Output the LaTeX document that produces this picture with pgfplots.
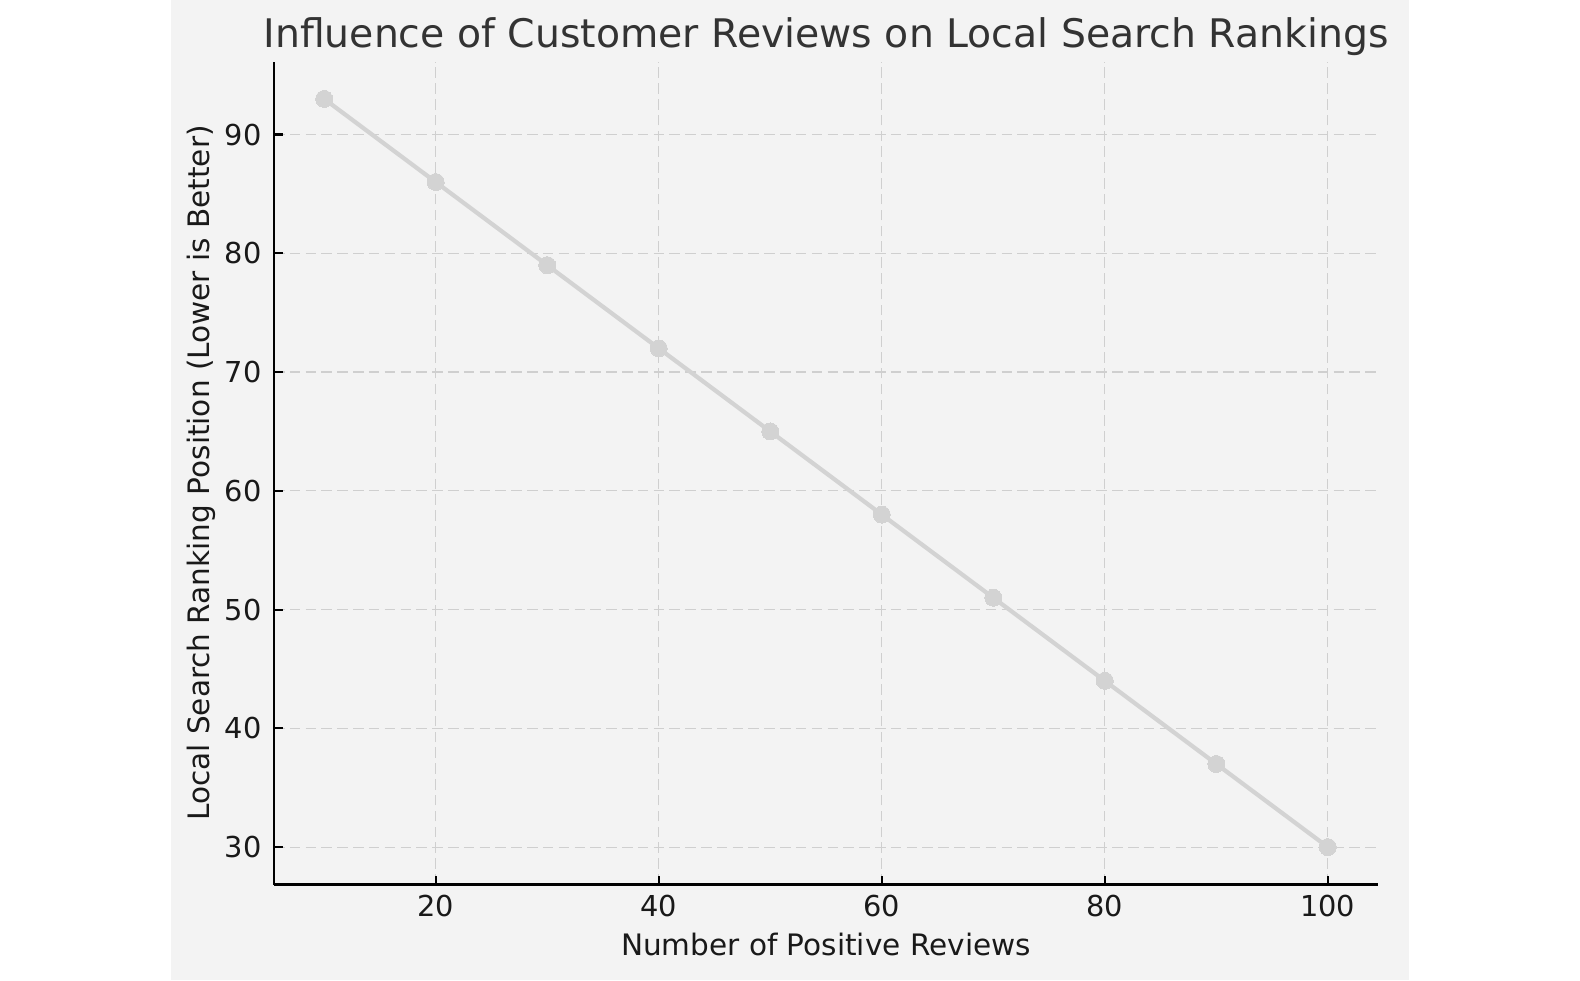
\documentclass[border=0pt]{standalone}
\usepackage{fontspec}
\setmainfont{DejaVu Sans}
\usepackage{pgfplots}
\pgfplotsset{compat=1.18}

\definecolor{panel}{HTML}{F3F3F3}
\definecolor{seriesgray}{HTML}{D3D3D3}
\definecolor{gridgray}{HTML}{CFCFCF}
\definecolor{titlegray}{HTML}{333333}

\begin{document}
\begin{tikzpicture}
\useasboundingbox (0,0) rectangle (158mm,98mm);
\fill[white] (0,0) rectangle (158mm,98mm);
\fill[panel] (17.1mm,0) rectangle (140.9mm,98mm);
\begin{axis}[
    at={(27.4mm,9.55mm)}, anchor=south west,
    scale only axis,
    width=110.4mm, height=82.3mm,
    xmin=5.5, xmax=104.5,
    ymin=26.85, ymax=96.15,
    xtick={20,40,...,100},
    ytick={30,40,...,90},
    axis x line*=bottom,
    axis y line*=left,
    axis line style={-, line width=0.6pt, black},
    tick align=inside,
    major tick length=0.9mm,
    tick style={line width=0.6pt, black},
    grid=major,
    major grid style={dash pattern=on 3pt off 1.5pt, gridgray, line width=0.35pt},
    axis background/.style={fill=panel},
    /pgf/number format/assume math mode=true,
    ticklabel style={font=\fontsize{8.2}{9}\selectfont, text=black!90},
    xticklabel style={anchor=base, yshift=-3.23mm},
    title={Influence of Customer Reviews on Local Search Rankings},
    every axis title/.style={at={(axis description cs:0.5,1.0172)}, anchor=base,
        font=\fontsize{11.2}{13}\selectfont, text=titlegray},
    xlabel={Number of Positive Reviews},
    xlabel style={at={(axis description cs:0.5,-0.0857)}, anchor=base,
        font=\fontsize{8.4}{10}\selectfont, text=black!90},
    ylabel={Local Search Ranking Position (Lower is Better)},
    ylabel style={at={(axis description cs:-0.058,0.5)}, anchor=base,
        font=\fontsize{8.4}{10}\selectfont, text=black!90},
]
\addplot[seriesgray, line width=1.2pt, mark=*, mark size=0.85mm,
    mark options={fill=seriesgray, draw=seriesgray, line width=0pt}] coordinates {
    (10,93) (20,86) (30,79) (40,72) (50,65)
    (60,58) (70,51) (80,44) (90,37) (100,30)
};
\end{axis}
\end{tikzpicture}
\end{document}
